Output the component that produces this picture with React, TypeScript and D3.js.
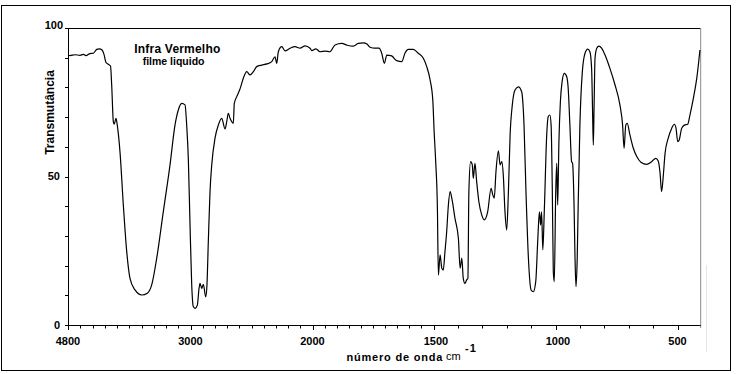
import React, { useEffect, useRef } from "react";
import * as d3 from "d3";

const WIDTH = 736;
const HEIGHT = 374;

// IR spectrum: wavenumber (cm-1) and transmittance (%)
const wavenumbers = [
  4800, 4771, 4697, 4624, 4575, 4535, 4477, 4428, 4378, 4340, 4300, 4271, 4242, 4208, 4175,
  4158, 4134, 4120, 4095, 4076, 4036, 3987, 3937, 3889, 3815, 3717, 3635, 3570, 3497, 3400,
  3301, 3228, 3179, 3129, 3081, 3056, 3032, 3007, 2990, 2977, 2963, 2944, 2930, 2922, 2908,
  2895, 2875, 2865, 2854, 2840, 2826, 2799, 2772, 2744, 2717, 2703, 2690, 2676, 2662, 2649,
  2641, 2621, 2594, 2567, 2539, 2512, 2485, 2457, 2416, 2375, 2334, 2307, 2293, 2280, 2252,
  2225, 2184, 2143, 2102, 2061, 2020, 2006, 1986, 1969, 1948, 1928, 1907, 1879, 1857, 1831,
  1811, 1790, 1775, 1762, 1742, 1725, 1714, 1703, 1693, 1673, 1652, 1631, 1618, 1604, 1584,
  1563, 1542, 1528, 1514, 1503, 1497, 1491, 1484, 1480, 1473, 1466, 1460, 1453, 1446, 1439,
  1432, 1425, 1412, 1398, 1391, 1384, 1378, 1371, 1364, 1359, 1355, 1348, 1341, 1337, 1330,
  1323, 1314, 1302, 1292, 1278, 1264, 1257, 1251, 1244, 1234, 1227, 1220, 1214, 1207, 1200,
  1193, 1186, 1177, 1166, 1152, 1139, 1129, 1121, 1111, 1100, 1091, 1081, 1073, 1066, 1061,
  1057, 1052, 1046, 1036, 1030, 1023, 1018, 1013, 1009, 1005, 999, 995, 991, 986, 980,
  973, 964, 954, 948, 941, 934, 930, 924, 920, 916, 911, 907, 900, 890, 879,
  868, 859, 852, 848, 845, 842, 838, 831, 822, 811, 797, 777, 756, 736, 725,
  719, 712, 706, 695, 681, 667, 650, 626, 606, 589, 579, 572, 565, 558, 551,
  538, 524, 513, 506, 499, 493, 483, 472, 458, 449, 435, 421, 408,
];
const transmittance = [
  90.9, 90.7, 91.0, 90.8, 91.1, 90.7, 91.4, 91.5, 92.8, 93.0, 92.6, 91.1, 88.4, 87.8, 87.2,
  80.8, 68.5, 67.6, 69.6, 67.3, 58.3, 40.4, 24.7, 15.7, 11.8, 10.1, 10.7, 13.5, 22.4, 38.1,
  53.9, 67.3, 72.4, 74.6, 74.1, 67.3, 56.0, 33.7, 13.5, 6.2, 5.6, 6.7, 12.3, 14.0, 12.3,
  13.7, 9.5, 13.5, 28.0, 44.9, 53.9, 62.9, 67.3, 69.6, 66.0, 68.5, 71.3, 69.6, 68.5, 67.9,
  74.6, 76.9, 79.5, 83.1, 85.3, 84.2, 85.3, 87.0, 87.5, 87.9, 88.7, 90.3, 88.1, 92.0, 93.7,
  92.3, 93.2, 93.7, 93.2, 94.0, 93.2, 92.4, 93.0, 92.0, 92.2, 92.0, 94.3, 94.8, 94.2, 93.9,
  94.8, 95.0, 94.6, 93.5, 93.2, 93.2, 91.5, 88.1, 90.9, 90.6, 89.0, 88.7, 91.5, 92.8, 92.8,
  91.5, 89.8, 87.0, 82.5, 75.8, 64.5, 55.0, 39.3, 16.8, 23.6, 19.1, 18.5, 24.7, 31.4, 40.4,
  44.9, 42.7, 35.9, 29.2, 19.1, 22.5, 15.7, 14.0, 15.2, 15.7, 44.9, 55.0, 53.9, 49.4, 54.4,
  48.2, 41.5, 37.0, 35.4, 38.1, 46.0, 43.8, 42.7, 51.6, 58.6, 53.9, 55.0, 50.5, 38.1, 32.0,
  44.9, 64.0, 74.1, 79.1, 80.2, 78.6, 67.3, 44.9, 22.5, 11.8, 11.2, 14.6, 28.0, 38.1, 33.7,
  38.1, 25.3, 38.1, 64.0, 70.1, 70.7, 67.3, 44.9, 17.9, 14.6, 45.0, 54.4, 40.4, 61.7, 75.2,
  81.9, 84.7, 83.6, 79.7, 67.3, 55.0, 54.4, 40.4, 22.5, 12.9, 22.5, 40.4, 67.3, 85.3, 91.5,
  92.9, 92.0, 86.4, 71.8, 60.6, 73.0, 89.8, 93.2, 93.9, 93.2, 90.9, 86.4, 80.8, 74.1, 67.3,
  59.5, 67.3, 67.9, 64.0, 59.5, 56.7, 54.8, 54.1, 55.0, 56.1, 55.2, 51.6, 44.9, 50.5, 57.8,
  62.9, 66.2, 67.6, 66.2, 61.7, 62.3, 66.2, 67.3, 67.6, 70.7, 76.3, 83.1, 92.6,
];

// axis: labelled wavenumbers and minor intervals between them
const xMajor = [4800, 3000, 2000, 1500, 1000, 500];
const xMinorSteps = [10, 10, 10, 5, 5];
const yTickValues = [0, 10, 20, 30, 40, 50, 60, 70, 80, 90, 100];
const yLabelValues = [0, 50, 100];

const FONT = "'Liberation Sans', Arial, Helvetica, sans-serif";

export default function App() {
  const ref = useRef<SVGSVGElement>(null);

  useEffect(() => {
    document.body.style.margin = "0";
    const container = ref.current;
    if (!container) return;

    const svg = d3.select(container);
    svg.selectAll("*").remove();

    // piecewise scale, the spectrum changes its scale at 3000 and 2000
    const x = d3
      .scaleLinear()
      .domain([4800, 3000, 2000, 1500, 1000, 500, 400])
      .range([68, 190.5, 312.5, 433.5, 555.5, 677.5, 701.9]);
    const y = d3.scaleLinear().domain([0, 100]).range([325, 28]);

    const left = x(4800);
    const right = x(405);
    const top = y(100);
    const bottom = y(0);

    svg.append("rect").attr("width", WIDTH).attr("height", HEIGHT).attr("fill", "#fff");

    // outer frame
    svg
      .append("rect")
      .attr("x", 1.5)
      .attr("y", 5.5)
      .attr("width", 729)
      .attr("height", 365)
      .attr("fill", "none")
      .attr("stroke", "#000");

    // plot frame
    svg
      .append("line")
      .attr("x1", left)
      .attr("x2", right)
      .attr("y1", top + 0.5)
      .attr("y2", top + 0.5)
      .attr("stroke", "#000");
    svg
      .append("line")
      .attr("x1", right)
      .attr("x2", right)
      .attr("y1", top)
      .attr("y2", bottom + 3)
      .attr("stroke", "#8a8a8a");
    svg
      .append("line")
      .attr("x1", 706.5)
      .attr("x2", 706.5)
      .attr("y1", 265)
      .attr("y2", 352)
      .attr("stroke", "#e4e4e4");

    // x axis
    svg
      .append("line")
      .attr("x1", left)
      .attr("x2", right)
      .attr("y1", bottom + 0.5)
      .attr("y2", bottom + 0.5)
      .attr("stroke", "#000");

    const xMinor: number[] = [];
    xMajor.slice(0, -1).forEach((a, i) => {
      const b = xMajor[i + 1];
      const n = xMinorSteps[i];
      for (let k = 1; k < n; k++) xMinor.push(a + ((b - a) * k) / n);
    });

    svg
      .selectAll(".xminor")
      .data(xMinor)
      .enter()
      .append("line")
      .attr("x1", (d) => Math.round(x(d)) + 0.5)
      .attr("x2", (d) => Math.round(x(d)) + 0.5)
      .attr("y1", bottom)
      .attr("y2", bottom + 3.5)
      .attr("stroke", "#000");

    svg
      .selectAll(".xmajor")
      .data(xMajor)
      .enter()
      .append("line")
      .attr("x1", (d) => Math.round(x(d)) + 0.5)
      .attr("x2", (d) => Math.round(x(d)) + 0.5)
      .attr("y1", bottom)
      .attr("y2", bottom + 5)
      .attr("stroke", "#000");

    svg
      .selectAll(".xlabel")
      .data(xMajor)
      .enter()
      .append("text")
      .attr("x", (d) => x(d) + (d === 1500 || d === 1000 ? 2.5 : 0))
      .attr("y", 345)
      .attr("text-anchor", "middle")
      .attr("font-family", FONT)
      .attr("font-weight", "bold")
      .attr("font-size", 11)
      .text((d) => d);

    // y axis
    svg
      .append("line")
      .attr("x1", left + 0.5)
      .attr("x2", left + 0.5)
      .attr("y1", top)
      .attr("y2", bottom + 1)
      .attr("stroke", "#000");

    svg
      .selectAll(".ytick")
      .data(yTickValues)
      .enter()
      .append("line")
      .attr("x1", left - 3)
      .attr("x2", left)
      .attr("y1", (d) => Math.round(y(d)) + 0.5)
      .attr("y2", (d) => Math.round(y(d)) + 0.5)
      .attr("stroke", "#000");

    svg
      .selectAll(".ylabel")
      .data(yLabelValues)
      .enter()
      .append("text")
      .attr("x", (d) => (d === 100 ? 63 : 60))
      .attr("y", (d) => y(d) + (d === 100 ? 1 : 3.5))
      .attr("text-anchor", "end")
      .attr("font-family", FONT)
      .attr("font-weight", "bold")
      .attr("font-size", 11)
      .text((d) => d);

    // spectrum
    const points = wavenumbers.map((w, i) => [w, transmittance[i]] as [number, number]);
    const line = d3
      .line<[number, number]>()
      .x((d) => x(d[0]))
      .y((d) => y(d[1]))
      .curve(d3.curveMonotoneX);

    svg
      .append("path")
      .datum(points)
      .attr("d", line)
      .attr("fill", "none")
      .attr("stroke", "#000")
      .attr("stroke-width", 1.2)
      .attr("stroke-linejoin", "round");

    // titles
    svg
      .append("text")
      .attr("transform", "translate(53.5,112.5) rotate(-90)")
      .attr("text-anchor", "middle")
      .attr("font-family", FONT)
      .attr("font-weight", "bold")
      .attr("font-size", 12)
      .text("Transmutância");

    svg
      .append("text")
      .attr("x", 346.5)
      .attr("y", 361)
      .attr("font-family", FONT)
      .attr("font-weight", "bold")
      .attr("font-size", 11)
      .attr("letter-spacing", 0.8)
      .text("número de onda");
    svg
      .append("text")
      .attr("x", 446)
      .attr("y", 360)
      .attr("font-family", FONT)
      .attr("font-size", 11)
      .text("cm");
    svg
      .append("text")
      .attr("x", 465)
      .attr("y", 351.5)
      .attr("font-family", FONT)
      .attr("font-weight", "bold")
      .attr("font-size", 11)
      .attr("letter-spacing", 1)
      .text("-1");

    svg
      .append("text")
      .attr("x", 134.3)
      .attr("y", 52.5)
      .attr("font-family", FONT)
      .attr("font-weight", "bold")
      .attr("font-size", 12)
      .attr("letter-spacing", 0.2)
      .text("Infra Vermelho");
    svg
      .append("text")
      .attr("x", 142.7)
      .attr("y", 64.5)
      .attr("font-family", FONT)
      .attr("font-weight", "bold")
      .attr("font-size", 10.5)
      .text("filme liquido");
  }, [ref]);

  return (
    <svg
      ref={ref}
      width={WIDTH}
      height={HEIGHT}
      style={{ position: "absolute", left: 0, top: 0, display: "block" }}
    />
  );
}
